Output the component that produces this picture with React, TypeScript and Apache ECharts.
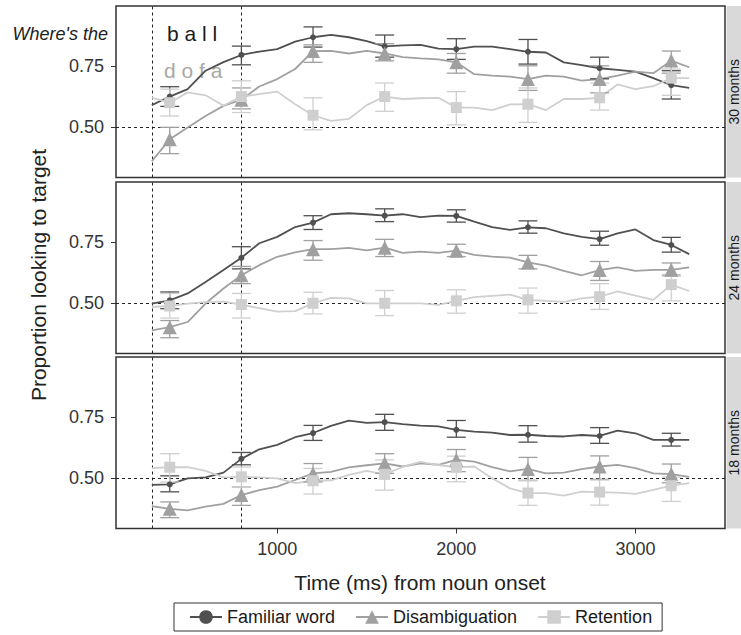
import React, { useEffect, useRef } from "react";
import * as echarts from "echarts";

const FONT = "'Liberation Sans', Arial, Helvetica, sans-serif";

// time axis (ms from noun onset)
const lineTimes = [300, 400, 500, 600, 700, 800, 900, 1000, 1100, 1200, 1300, 1400, 1500, 1600, 1700, 1800, 1900, 2000, 2100, 2200, 2300, 2400, 2500, 2600, 2700, 2800, 2900, 3000, 3100, 3200, 3300];
const pointTimes = [400, 800, 1200, 1600, 2000, 2400, 2800, 3200];
const xTickValues = [1000, 2000, 3000];
const yTickValues = [0.5, 0.75];
const conditions = ["Familiar word", "Disambiguation", "Retention"];
const panelLabels = ["30 months", "24 months", "18 months"];

// ---- 30 months ----
const fam30Line = [0.59, 0.625, 0.655, 0.73, 0.765, 0.794, 0.808, 0.818, 0.848, 0.866, 0.876, 0.866, 0.85, 0.829, 0.833, 0.835, 0.82, 0.818, 0.828, 0.828, 0.818, 0.807, 0.804, 0.764, 0.753, 0.74, 0.733, 0.726, 0.70, 0.671, 0.66];
const dis30Line = [0.362, 0.451, 0.499, 0.546, 0.587, 0.612, 0.666, 0.696, 0.737, 0.81, 0.811, 0.80, 0.811, 0.80, 0.785, 0.78, 0.776, 0.764, 0.716, 0.71, 0.706, 0.696, 0.71, 0.706, 0.69, 0.696, 0.71, 0.726, 0.72, 0.771, 0.744];
const ret30Line = [0.621, 0.60, 0.642, 0.63, 0.588, 0.625, 0.635, 0.645, 0.594, 0.549, 0.526, 0.534, 0.59, 0.625, 0.615, 0.618, 0.62, 0.58, 0.58, 0.57, 0.593, 0.594, 0.57, 0.615, 0.615, 0.62, 0.674, 0.655, 0.667, 0.70, 0.70];
const fam30Mean = [0.625, 0.794, 0.866, 0.829, 0.818, 0.807, 0.74, 0.671];
const fam30Lo = [0.585, 0.754, 0.826, 0.785, 0.776, 0.757, 0.697, 0.615];
const fam30Hi = [0.665, 0.83, 0.908, 0.875, 0.86, 0.857, 0.785, 0.73];
const dis30Mean = [0.451, 0.612, 0.81, 0.80, 0.764, 0.696, 0.696, 0.771];
const dis30Lo = [0.393, 0.575, 0.764, 0.77, 0.72, 0.65, 0.64, 0.72];
const dis30Hi = [0.50, 0.66, 0.835, 0.84, 0.80, 0.75, 0.75, 0.81];
const ret30Mean = [0.60, 0.625, 0.549, 0.625, 0.58, 0.594, 0.62, 0.70];
const ret30Lo = [0.546, 0.56, 0.49, 0.565, 0.51, 0.52, 0.57, 0.63];
const ret30Hi = [0.655, 0.689, 0.62, 0.68, 0.645, 0.66, 0.68, 0.737];

// ---- 24 months ----
const fam24Line = [0.499, 0.512, 0.54, 0.587, 0.635, 0.685, 0.744, 0.77, 0.81, 0.828, 0.862, 0.866, 0.862, 0.856, 0.862, 0.85, 0.856, 0.855, 0.832, 0.81, 0.798, 0.809, 0.805, 0.784, 0.77, 0.761, 0.784, 0.80, 0.757, 0.737, 0.70];
const dis24Line = [0.39, 0.403, 0.424, 0.499, 0.56, 0.614, 0.655, 0.689, 0.707, 0.72, 0.72, 0.725, 0.715, 0.726, 0.705, 0.71, 0.705, 0.714, 0.697, 0.69, 0.686, 0.666, 0.653, 0.632, 0.614, 0.635, 0.646, 0.632, 0.636, 0.636, 0.646];
const ret24Line = [0.485, 0.489, 0.499, 0.505, 0.507, 0.495, 0.48, 0.466, 0.468, 0.50, 0.522, 0.52, 0.50, 0.50, 0.50, 0.50, 0.494, 0.51, 0.525, 0.53, 0.535, 0.514, 0.51, 0.506, 0.52, 0.527, 0.548, 0.531, 0.514, 0.576, 0.55];
const fam24Mean = [0.512, 0.685, 0.828, 0.856, 0.855, 0.809, 0.761, 0.737];
const fam24Lo = [0.478, 0.64, 0.80, 0.832, 0.83, 0.785, 0.736, 0.708];
const fam24Hi = [0.546, 0.73, 0.856, 0.884, 0.88, 0.835, 0.793, 0.768];
const dis24Mean = [0.403, 0.614, 0.72, 0.726, 0.714, 0.666, 0.635, 0.636];
const dis24Lo = [0.36, 0.58, 0.675, 0.69, 0.69, 0.64, 0.593, 0.615];
const dis24Hi = [0.43, 0.65, 0.755, 0.76, 0.74, 0.695, 0.67, 0.664];
const ret24Mean = [0.489, 0.495, 0.50, 0.50, 0.51, 0.514, 0.527, 0.576];
const ret24Lo = [0.44, 0.44, 0.457, 0.45, 0.46, 0.46, 0.475, 0.51];
const ret24Hi = [0.54, 0.54, 0.545, 0.552, 0.555, 0.562, 0.58, 0.61];

// ---- 18 months ----
const fam18Line = [0.473, 0.475, 0.50, 0.504, 0.523, 0.579, 0.618, 0.636, 0.667, 0.684, 0.713, 0.734, 0.725, 0.728, 0.72, 0.714, 0.711, 0.697, 0.69, 0.686, 0.676, 0.677, 0.672, 0.67, 0.676, 0.672, 0.694, 0.683, 0.656, 0.656, 0.656];
const dis18Line = [0.387, 0.376, 0.37, 0.385, 0.396, 0.432, 0.452, 0.466, 0.493, 0.52, 0.526, 0.544, 0.553, 0.561, 0.548, 0.561, 0.555, 0.575, 0.568, 0.545, 0.528, 0.538, 0.52, 0.523, 0.537, 0.548, 0.555, 0.541, 0.52, 0.517, 0.506];
const ret18Line = [0.541, 0.545, 0.545, 0.53, 0.504, 0.506, 0.504, 0.50, 0.48, 0.49, 0.492, 0.514, 0.53, 0.516, 0.546, 0.567, 0.554, 0.545, 0.548, 0.50, 0.459, 0.44, 0.44, 0.43, 0.446, 0.444, 0.442, 0.437, 0.453, 0.47, 0.48];
const fam18Mean = [0.475, 0.579, 0.684, 0.728, 0.697, 0.677, 0.672, 0.656];
const fam18Lo = [0.445, 0.555, 0.654, 0.695, 0.667, 0.647, 0.642, 0.631];
const fam18Hi = [0.51, 0.605, 0.715, 0.76, 0.735, 0.714, 0.706, 0.683];
const dis18Mean = [0.376, 0.432, 0.52, 0.561, 0.575, 0.538, 0.548, 0.517];
const dis18Lo = [0.34, 0.39, 0.485, 0.52, 0.527, 0.492, 0.496, 0.482];
const dis18Hi = [0.404, 0.465, 0.56, 0.60, 0.617, 0.585, 0.591, 0.558];
const ret18Mean = [0.545, 0.506, 0.49, 0.516, 0.545, 0.44, 0.444, 0.47];
const ret18Lo = [0.485, 0.465, 0.436, 0.452, 0.486, 0.39, 0.391, 0.406];
const ret18Hi = [0.60, 0.546, 0.54, 0.575, 0.59, 0.49, 0.493, 0.505];

const panelData = [
  { lines: [fam30Line, dis30Line, ret30Line], means: [fam30Mean, dis30Mean, ret30Mean], los: [fam30Lo, dis30Lo, ret30Lo], his: [fam30Hi, dis30Hi, ret30Hi] },
  { lines: [fam24Line, dis24Line, ret24Line], means: [fam24Mean, dis24Mean, ret24Mean], los: [fam24Lo, dis24Lo, ret24Lo], his: [fam24Hi, dis24Hi, ret24Hi] },
  { lines: [fam18Line, dis18Line, ret18Line], means: [fam18Mean, dis18Mean, ret18Mean], los: [fam18Lo, dis18Lo, ret18Lo], his: [fam18Hi, dis18Hi, ret18Hi] },
];

const COLORS = ["#505050", "#a0a0a0", "#cfcfcf"];
const SYMBOLS = ["circle", "triangle", "rect"];
const SYMBOL_SIZES = [6, 14, 11];
const GRID_TOPS = [6, 182, 357];
const GRID_H = 171.5;
const GRID_LEFT = 116;
const GRID_RIGHT_EDGE = 725;

export default function App() {
  const ref = useRef<HTMLDivElement>(null);
  useEffect(() => {
    if (!ref.current) return;
    const chart = echarts.init(ref.current, undefined, { renderer: "svg" });

    const grids = GRID_TOPS.map((top) => ({
      left: GRID_LEFT,
      top,
      width: GRID_RIGHT_EDGE - GRID_LEFT,
      height: GRID_H,
      show: true,
      backgroundColor: "#ffffff",
      borderColor: "#333333",
      borderWidth: 1.5,
    }));

    const xAxes = GRID_TOPS.map((_, i) => ({
      gridIndex: i,
      type: "value",
      min: 100,
      max: 3500,
      axisLine: { show: false },
      splitLine: { show: false },
      axisTick: { show: i === 2, customValues: xTickValues, length: 5, lineStyle: { color: "#333" } },
      axisLabel: {
        show: i === 2,
        customValues: xTickValues,
        formatter: (v: number) => String(Math.round(v)),
        fontSize: 18,
        color: "#333",
        margin: 11,
        fontFamily: FONT,
      },
    }));

    const yAxes = GRID_TOPS.map((_, i) => ({
      gridIndex: i,
      type: "value",
      min: 0.296,
      max: 0.993,
      axisLine: { show: false },
      splitLine: { show: false },
      axisTick: { show: true, customValues: yTickValues, length: 5, lineStyle: { color: "#333" } },
      axisLabel: {
        customValues: yTickValues,
        formatter: (v: number) => v.toFixed(2),
        fontSize: 18,
        color: "#333",
        margin: 12,
        fontFamily: FONT,
      },
    }));

    const series: any[] = [];
    panelData.forEach((p, pi) => {
      p.lines.forEach((vals, ci) => {
        series.push({
          type: "line",
          name: conditions[ci],
          xAxisIndex: pi,
          yAxisIndex: pi,
          data: lineTimes.map((t, k) => [t, vals[k]]),
          showSymbol: false,
          symbol: SYMBOLS[ci],
          symbolSize: SYMBOL_SIZES[ci],
          itemStyle: { color: COLORS[ci] },
          lineStyle: { color: COLORS[ci], width: 1.8 },
          z: 3,
          silent: true,
          markLine:
            ci === 0
              ? {
                  silent: true,
                  symbol: "none",
                  label: { show: false },
                  lineStyle: { type: [3, 3], color: "#222", width: 1 },
                  data: [{ yAxis: 0.5 }, { xAxis: 300 }, { xAxis: 800 }],
                  z: 1,
                }
              : undefined,
        });
      });
      p.means.forEach((vals, ci) => {
        series.push({
          type: "custom",
          name: conditions[ci] + " SE " + pi,
          xAxisIndex: pi,
          yAxisIndex: pi,
          data: pointTimes.map((t, k) => [t, p.los[ci][k], p.his[ci][k]]),
          encode: { x: 0, y: [1, 2] },
          z: 4,
          silent: true,
          renderItem: (params: any, api: any) => {
            const x = api.value(0);
            const lo = api.coord([x, api.value(1)]);
            const hi = api.coord([x, api.value(2)]);
            const w = 9.5;
            const style = { stroke: COLORS[ci], lineWidth: 1.3, fill: "none" };
            return {
              type: "group",
              children: [
                { type: "line", shape: { x1: lo[0], y1: lo[1], x2: hi[0], y2: hi[1] }, style },
                { type: "line", shape: { x1: lo[0] - w, y1: lo[1], x2: lo[0] + w, y2: lo[1] }, style },
                { type: "line", shape: { x1: hi[0] - w, y1: hi[1], x2: hi[0] + w, y2: hi[1] }, style },
              ],
            };
          },
        });
        series.push({
          type: "scatter",
          name: conditions[ci] + " mean " + pi,
          xAxisIndex: pi,
          yAxisIndex: pi,
          data: pointTimes.map((t, k) => [t, vals[k]]),
          symbol: SYMBOLS[ci],
          symbolSize: SYMBOL_SIZES[ci],
          itemStyle: { color: COLORS[ci], opacity: 1 },
          z: 5,
          silent: true,
        });
      });
    });

    const textStyleBase = { fontFamily: FONT, fill: "#1a1a1a" };
    const graphics: any[] = [
      { type: "text", x: 108, y: 34, style: { ...textStyleBase, text: "Where's the", fontSize: 18, fontStyle: "italic", align: "right", verticalAlign: "middle", fill: "#222" } },
      { type: "text", x: 167, y: 33, style: { ...textStyleBase, text: "b a l l", fontSize: 21, align: "left", verticalAlign: "middle", fill: "#1a1a1a" } },
      { type: "text", x: 164, y: 70, style: { ...textStyleBase, text: "d o f a", fontSize: 21, align: "left", verticalAlign: "middle", fill: "#a8a8a8" } },
      { type: "text", x: 38, y: 275, rotation: Math.PI / 2, style: { ...textStyleBase, text: "Proportion looking to target", fontSize: 21, align: "center", verticalAlign: "middle", fill: "#222" } },
      { type: "text", x: 420, y: 582, style: { ...textStyleBase, text: "Time (ms) from noun onset", fontSize: 21, align: "center", verticalAlign: "middle", fill: "#222" } },
    ];
    GRID_TOPS.forEach((top, i) => {
      graphics.push({ type: "rect", shape: { x: 726.5, y: top, width: 40, height: GRID_H }, style: { fill: "#d9d9d9" }, z: 1 });
      graphics.push({
        type: "text",
        x: 733.8,
        y: top + GRID_H / 2,
        rotation: Math.PI / 2,
        style: { ...textStyleBase, text: panelLabels[i], fontSize: 14, align: "center", verticalAlign: "middle" },
        z: 2,
      });
    });

    chart.setOption({
      animation: false,
      backgroundColor: "#ffffff",
      textStyle: { fontFamily: FONT },
      grid: grids,
      xAxis: xAxes,
      yAxis: yAxes,
      legend: {
        data: conditions,
        left: 174,
        top: 603,
        orient: "horizontal",
        itemWidth: 32,
        itemHeight: 17,
        itemGap: 20,
        padding: [5, 10, 5, 15],
        borderColor: "#333",
        borderWidth: 1,
        textStyle: { fontSize: 18, color: "#1a1a1a", fontFamily: FONT },
        selectedMode: false,
      },
      series,
      graphic: graphics,
    });
    return () => chart.dispose();
  }, []);
  return <div ref={ref} style={{ position: "absolute", left: 0, top: 0, width: 741, height: 635 }} />;
}
